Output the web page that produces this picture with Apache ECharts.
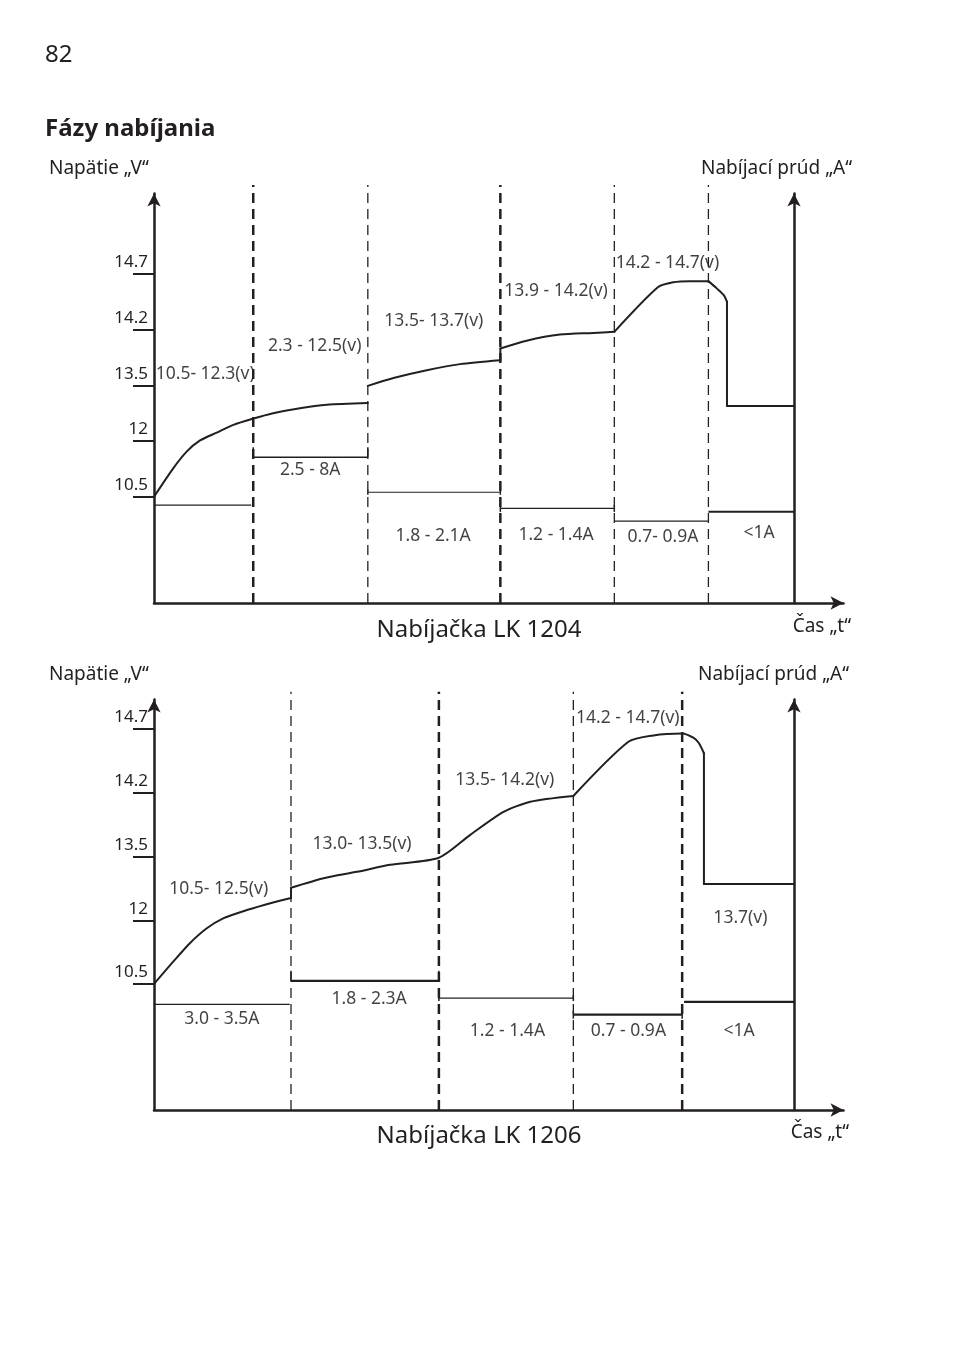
<!DOCTYPE html>
<html>
<head>
<meta charset="utf-8">
<script src="https://cdn.jsdelivr.net/npm/echarts@6/dist/echarts.min.js"></script>
<style>
html, body { margin: 0; padding: 0; background: #fff; }
#main { width: 954px; height: 1345px; }
</style>
</head>
<body>
<div id="main"></div>
<script>
// osa napatia - rovnomerne rozlozene znacky (index 0..4)
var yTickLabels = ['10.5', '12', '13.5', '14.2', '14.7'];

// ---- Nabijacka LK 1204 ----
// hranice faz na osi casu (0 = os napatia, 100 = os prudu)
var phaseEdges1204 = [15.5, 33.4, 54.1, 71.9, 86.6];
var boldEdges1204 = [true, false, true, false, false];
// krivka napatia [cas, uroven]
var voltage1204 = [
    [[0, 0], [3.0, 0.51], [5.1, 0.81], [7.2, 1.01], [9.8, 1.15], [12.4, 1.29], [15.4, 1.40],
     [18.6, 1.50], [22.8, 1.59], [27.0, 1.65], [33.4, 1.68]],
    [[33.4, 1.99], [37.4, 2.13], [42.6, 2.27], [47.8, 2.38], [54.1, 2.45], [54.1, 2.66],
     [58.2, 2.80], [63.4, 2.91], [68.6, 2.94], [71.9, 2.96], [78.7, 3.76], [81.1, 3.85],
     [83.7, 3.87], [86.6, 3.87], [87.9, 3.74], [89.0, 3.62], [89.5, 3.50], [89.5, 1.63], [100, 1.63]]
];
// prud [od, do, uroven]
var current1204 = [[0, 15.2, -0.15], [15.5, 33.4, 0.71], [33.4, 54.1, 0.08],
                   [54.1, 71.9, -0.21], [71.9, 86.6, -0.44], [86.6, 100, -0.27]];
var notes1204 = [
    [8.0, 2.20, '10.5- 12.3(v)'], [25.1, 2.71, '2.3 - 12.5(v)'], [24.4, 0.48, '2.5 - 8A'],
    [43.7, 3.16, '13.5- 13.7(v)'], [43.6, -0.70, '1.8 - 2.1A'],
    [62.8, 3.70, '13.9 - 14.2(v)'], [62.8, -0.68, '1.2 - 1.4A'],
    [80.2, 4.19, '14.2 - 14.7(v)'], [79.5, -0.72, '0.7- 0.9A'],
    [94.5, -0.65, '<1A']
];

// ---- Nabijacka LK 1206 ----
var phaseEdges1206 = [21.4, 44.5, 65.5, 82.5];
var boldEdges1206 = [false, true, false, true];
var voltage1206 = [
    [[0, 0], [3.0, 0.35], [5.6, 0.64], [8.2, 0.87], [10.8, 1.03], [14.5, 1.16], [18.6, 1.28],
     [21.4, 1.35], [21.4, 1.51], [26.5, 1.66], [31.7, 1.76], [36.9, 1.87], [44.5, 1.98],
     [49.4, 2.34], [54.6, 2.70], [58.8, 2.86], [65.5, 2.95], [74.1, 3.80], [78.0, 3.90],
     [82.5, 3.93], [84.3, 3.86], [85.1, 3.78], [85.9, 3.62], [85.9, 1.57], [100, 1.57]]
];
var current1206 = [[0, 21.2, -0.32], [21.4, 44.5, 0.05], [44.5, 65.5, -0.22],
                   [65.5, 82.5, -0.48], [82.8, 100, -0.28]];
var notes1206 = [
    [10.1, 1.49, '10.5- 12.5(v)'], [10.6, -0.55, '3.0 - 3.5A'],
    [32.5, 2.20, '13.0- 13.5(v)'], [33.6, -0.24, '1.8 - 2.3A'],
    [54.8, 3.20, '13.5- 14.2(v)'], [55.2, -0.74, '1.2 - 1.4A'],
    [74.0, 4.18, '14.2 - 14.7(v)'], [74.1, -0.74, '0.7 - 0.9A'],
    [91.6, 1.04, '13.7(v)'], [91.4, -0.73, '<1A']
];

var FONT = '"Noto Sans", sans-serif';
var INK = '#231f20';

var chart = echarts.init(document.getElementById('main'));

var grids = [], xAxes = [], yAxes = [], series = [];

// rozdeli krivku na hladke useky - zlom pri zvislom skoku alebo ostrom rohu
function splitRuns(seg, sx, sy) {
    function ang(a, b) { return Math.atan2((b[1] - a[1]) * sy, (b[0] - a[0]) * sx) * 180 / Math.PI; }
    var runs = [], cur = [seg[0]];
    for (var i = 1; i < seg.length; i++) {
        if (seg[i][0] === seg[i - 1][0]) {
            if (cur.length > 1) runs.push({smooth: true, data: cur});
            runs.push({smooth: false, data: [seg[i - 1], seg[i]]});
            cur = [seg[i]];
            continue;
        }
        cur.push(seg[i]);
        var nx = seg[i + 1];
        if (nx && nx[0] !== seg[i][0] && Math.abs(ang(seg[i], nx) - ang(seg[i - 1], seg[i])) > 32) {
            runs.push({smooth: true, data: cur});
            cur = [seg[i]];
        }
    }
    if (cur.length > 1) runs.push({smooth: true, data: cur});
    return runs;
}

function addPanel(idx, p) {
    grids.push({left: 154, top: p.top, width: 689.5, height: p.height});
    xAxes.push({
        type: 'value', gridIndex: idx, min: 0, max: 107.7,
        axisLine: {onZero: false, symbol: ['none', 'arrow'], symbolSize: [10, 13],
                   lineStyle: {color: INK, width: 2.5}},
        axisTick: {show: false}, axisLabel: {show: false}, splitLine: {show: false}
    });
    yAxes.push({
        type: 'value', gridIndex: idx, position: 'left', min: p.min, max: p.max,
        axisLine: {show: true, onZero: false, symbol: ['none', 'arrow'], symbolSize: [10, 13],
                   lineStyle: {color: INK, width: 2.5}},
        axisTick: {show: true, length: 21, customValues: [0, 1, 2, 3, 4],
                   lineStyle: {color: INK, width: 2}},
        axisLabel: {customValues: [0, 1, 2, 3, 4], margin: 6, verticalAlign: 'bottom',
                    padding: [0, 0, 3, 0], color: INK, fontSize: 17, fontFamily: FONT,
                    formatter: function (v) { return yTickLabels[Math.round(v)]; }},
        splitLine: {show: false}
    });
    yAxes.push({
        type: 'value', gridIndex: idx, position: 'right', offset: -49.5, min: p.min, max: p.max,
        axisLine: {show: true, onZero: false, symbol: ['none', 'arrow'], symbolSize: [10, 13],
                   lineStyle: {color: INK, width: 2.5}},
        axisTick: {show: false}, axisLabel: {show: false}, splitLine: {show: false}
    });
    var yIdx = idx * 2;
    var sy = p.height / (p.max - p.min), sx = 689.5 / 107.7;

    // prerusovane hranice faz
    p.edges.forEach(function (t, i) {
        series.push({
            type: 'line', xAxisIndex: idx, yAxisIndex: yIdx, clip: false, silent: true,
            symbol: 'none', data: [[t, p.min], [t, p.dashTop]],
            lineStyle: {color: INK, width: p.bold[i] ? 2.5 : 1.3, type: [10, 6]}
        });
    });

    // napatie
    p.voltage.forEach(function (seg) {
        splitRuns(seg, sx, sy).forEach(function (run) {
            series.push({
                type: 'line', xAxisIndex: idx, yAxisIndex: yIdx, clip: false, silent: true,
                symbol: 'none', data: run.data, smooth: run.smooth ? 0.25 : false,
                lineStyle: {color: INK, width: 2, cap: 'round', join: 'round'}
            });
        });
    });

    // prud
    p.current.forEach(function (c, i) {
        var st = p.currentStyle[i];
        series.push({
            type: 'line', xAxisIndex: idx, yAxisIndex: yIdx, clip: false, silent: true,
            symbol: st.tick ? 'rect' : 'none', symbolSize: st.tick ? [1.5, st.tick] : 0,
            symbolOffset: [0, st.up ? -st.tick / 2 : 0],
            itemStyle: {color: INK},
            data: [[c[0], c[2]], [c[1], c[2]]],
            lineStyle: {color: INK, width: st.w}
        });
    });

    // popisy
    series.push({
        type: 'scatter', xAxisIndex: idx, yAxisIndex: yIdx, silent: true,
        symbol: 'circle', symbolSize: 1, itemStyle: {color: 'rgba(0,0,0,0)'},
        data: p.notes.map(function (n) { return {value: [n[0], n[1]], name: n[2]}; }),
        label: {show: true, position: 'inside', formatter: '{b}', color: '#111',
                textBorderWidth: 0, fontSize: 17.5, fontFamily: FONT}
    });
}

addPanel(0, {
    top: 193.5, height: 409.5, min: -1.908, max: 5.443, dashTop: 5.596,
    edges: phaseEdges1204, bold: boldEdges1204,
    voltage: voltage1204, current: current1204, notes: notes1204,
    currentStyle: [{w: 1.2}, {w: 1.5, tick: 10, up: true}, {w: 1.2, tick: 5},
                   {w: 1.2, tick: 7}, {w: 1.2}, {w: 2}]
});
addPanel(1, {
    top: 699.5, height: 410.5, min: -1.976, max: 4.463, dashTop: 4.585,
    edges: phaseEdges1206, bold: boldEdges1206,
    voltage: voltage1206, current: current1206, notes: notes1206,
    currentStyle: [{w: 1.2}, {w: 2.2, tick: 10, up: true}, {w: 1.2, tick: 6},
                   {w: 2.2, tick: 8}, {w: 2.2}]
});

function txt(x, y, s, size, align, weight) {
    return {type: 'text', x: x, y: y, silent: true,
            style: {text: s, fill: INK, align: align || 'left', verticalAlign: 'middle',
                    font: (weight || 'normal') + ' ' + size + 'px ' + FONT}};
}

chart.setOption({
    animation: false,
    backgroundColor: '#fff',
    grid: grids,
    xAxis: xAxes,
    yAxis: yAxes,
    series: series,
    graphic: [
        txt(45, 55, '82', 24),
        txt(45, 129, 'Fázy nabíjania', 24, 'left', 'bold'),
        txt(49, 169, 'Napätie „V“', 19),
        txt(852, 169, 'Nabíjací prúd „A“', 19, 'right'),
        txt(851, 627, 'Čas „t“', 19, 'right'),
        txt(479, 630, 'Nabíjačka LK 1204', 24, 'center'),
        txt(49, 675, 'Napätie „V“', 19),
        txt(849, 675, 'Nabíjací prúd „A“', 19, 'right'),
        txt(849, 1133, 'Čas „t“', 19, 'right'),
        txt(479, 1136, 'Nabíjačka LK 1206', 24, 'center')
    ]
});
</script>
</body>
</html>
